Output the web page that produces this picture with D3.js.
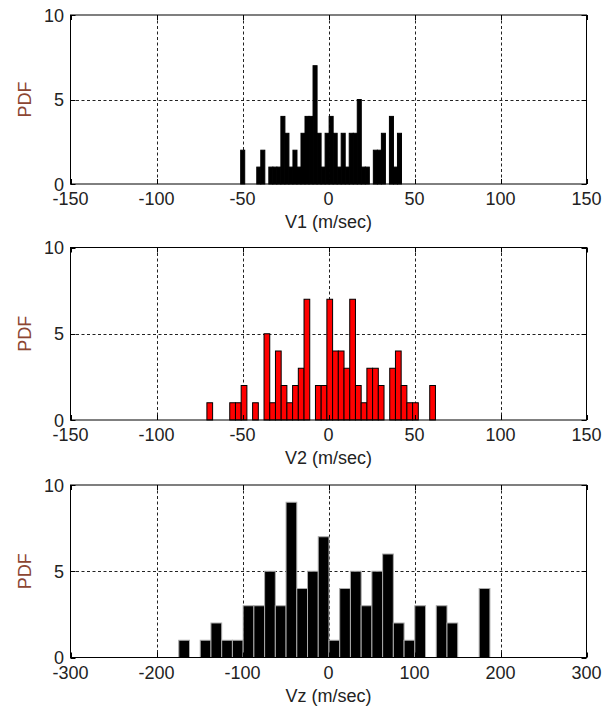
<!DOCTYPE html>
<html lang="en">
<head>
  <meta charset="UTF-8" />
  <script src="https://d3js.org/d3.v7.min.js"></script>
  <style>
    body { margin: 0; background: #fff; }
    text { font-family: "Liberation Sans", Arial, sans-serif; }
    .grid line { stroke: #222; stroke-dasharray: 3, 2.5; }
  </style>
</head>
<body>
  <svg id="chart" width="608" height="709"></svg>
  <script>
    // histogram bins (start of first bin, bin width, counts)
    const v1Start = -51.05, v1Width = 2.337;
    const v1Counts = [2, 0, 0, 0, 1, 2, 0, 1, 1, 1, 4, 3, 1, 2, 1, 3, 4, 4, 7, 3,
                      1, 3, 4, 3, 1, 3, 1, 3, 3, 5, 1, 1, 0, 2, 2, 3, 0, 4, 1, 3];
    const v2Start = -70.7, v2Width = 3.322;
    const v2Counts = [1, 0, 0, 0, 1, 1, 2, 0, 1, 0, 5, 1, 4, 2, 1, 2, 3, 7, 0, 2,
                      2, 7, 4, 4, 3, 7, 2, 1, 3, 3, 2, 0, 3, 4, 2, 1, 1, 0, 0, 2];
    const vzStart = -174.1, vzWidth = 12.475;
    const vzCounts = [1, 0, 1, 2, 1, 1, 3, 3, 5, 3, 9, 4, 5, 7, 1, 4, 5, 3, 5, 6,
                      2, 1, 3, 0, 3, 2, 0, 0, 4];

    const vTicks = [-150, -100, -50, 0, 50, 100, 150];
    const vzTicks = [-300, -200, -100, 0, 100, 200, 300];
    const yTicks = [0, 5, 10];

    const svg = d3.select("#chart");
    const left = 70.5, right = 586.5;

    function toBins(start, w, counts) {
      return counts.map((c, i) => ({ x0: start + i * w, x1: start + (i + 1) * w, n: c }));
    }

    function drawPanel(p) {
      const x = d3.scaleLinear().domain(p.domain).range([left, right]);
      const y = d3.scaleLinear().domain([0, 10]).range([p.bottom, p.top]);
      const g = svg.append("g");

      // dotted grid
      const grid = g.append("g").attr("class", "grid");
      grid.selectAll(".vx").data(p.ticks.slice(1, -1)).join("line")
        .attr("x1", d => Math.round(x(d)) + 0.5).attr("x2", d => Math.round(x(d)) + 0.5)
        .attr("y1", p.top).attr("y2", p.bottom);
      grid.selectAll(".hy").data(yTicks.slice(1, -1)).join("line")
        .attr("class", "hy")
        .attr("x1", left).attr("x2", right)
        .attr("y1", d => Math.round(y(d)) + 0.5).attr("y2", d => Math.round(y(d)) + 0.5);

      // bars
      g.append("g").selectAll("rect").data(p.bins.filter(d => d.n > 0)).join("rect")
        .attr("x", d => x(d.x0))
        .attr("width", d => x(d.x1) - x(d.x0))
        .attr("y", d => y(d.n))
        .attr("height", d => y(0) - y(d.n))
        .attr("fill", p.fill)
        .attr("stroke", p.stroke)
        .attr("stroke-width", 1);

      // inside ticks on all four sides
      const tk = g.append("g").attr("stroke", "#000");
      p.ticks.forEach(t => {
        const xx = Math.round(x(t)) + 0.5;
        tk.append("line").attr("x1", xx).attr("x2", xx).attr("y1", p.bottom).attr("y2", p.bottom - 5);
        tk.append("line").attr("x1", xx).attr("x2", xx).attr("y1", p.top).attr("y2", p.top + 5);
      });
      yTicks.forEach(t => {
        const yy = Math.round(y(t)) + 0.5;
        tk.append("line").attr("x1", left).attr("x2", left + 5).attr("y1", yy).attr("y2", yy);
        tk.append("line").attr("x1", right).attr("x2", right - 5).attr("y1", yy).attr("y2", yy);
      });

      // frame
      g.append("rect")
        .attr("x", left).attr("y", p.top)
        .attr("width", right - left).attr("height", p.bottom - p.top)
        .attr("fill", "none").attr("stroke", "#000");

      // tick labels
      g.selectAll(".xl").data(p.ticks).join("text")
        .attr("x", d => x(d)).attr("y", p.bottom + 21)
        .attr("text-anchor", "middle").attr("font-size", 18).attr("fill", "#222")
        .text(d => d);
      g.selectAll(".yl").data(yTicks).join("text")
        .attr("x", 64).attr("y", d => y(d) + 6.5)
        .attr("text-anchor", "end").attr("font-size", 18).attr("fill", "#222")
        .text(d => d);

      // axis titles
      g.append("text")
        .attr("x", (left + right) / 2).attr("y", p.bottom + 44)
        .attr("text-anchor", "middle").attr("font-size", 18).attr("fill", "#222")
        .text(p.label);
      g.append("text")
        .attr("transform", `translate(31,${(p.top + p.bottom) / 2}) rotate(-90)`)
        .attr("text-anchor", "middle").attr("font-size", 18).attr("fill", "#8c4632")
        .text("PDF");
    }

    drawPanel({ top: 15, bottom: 184, domain: [-150, 150], ticks: vTicks,
      bins: toBins(v1Start, v1Width, v1Counts), fill: "#000", stroke: "#000", label: "V1 (m/sec)" });
    drawPanel({ top: 247.5, bottom: 420, domain: [-150, 150], ticks: vTicks,
      bins: toBins(v2Start, v2Width, v2Counts), fill: "#ff0000", stroke: "#000", label: "V2 (m/sec)" });
    drawPanel({ top: 485, bottom: 657.5, domain: [-300, 300], ticks: vzTicks,
      bins: toBins(vzStart, vzWidth, vzCounts), fill: "#000", stroke: "#aaa", label: "Vz (m/sec)" });
  </script>
</body>
</html>
